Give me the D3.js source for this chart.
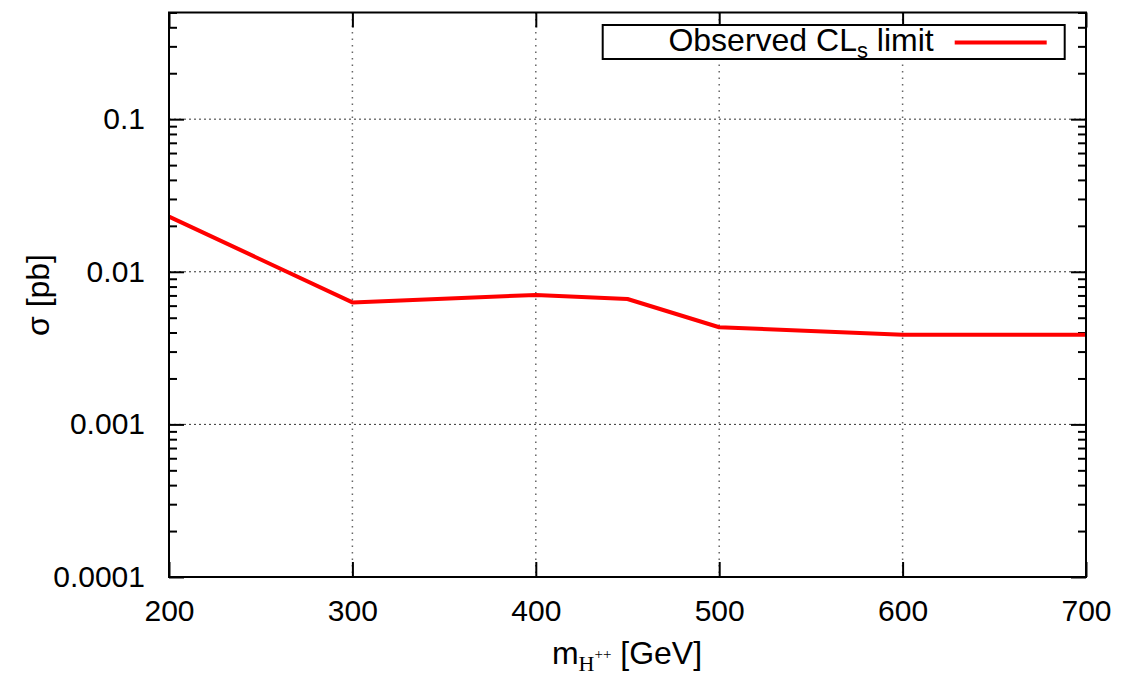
<!DOCTYPE html>
<head>
  <meta charset="utf-8">
  <title>Observed CLs limit</title>
  <style>
  body { margin: 0; background: #fff; }
  text { font-family: "Liberation Sans", Arial, sans-serif; fill: #000; }
  .axis text { font-size: 30px; }
  .axis line { stroke: #000; stroke-width: 2px; }
  .axis path { display: none; }
  .grid-x line { stroke: #666; stroke-width: 1.5px; stroke-dasharray: 1.5, 5; }
  .grid-y line { stroke: #333; stroke-width: 1px; stroke-dasharray: 2, 3; }
  .limit { fill: none; stroke: #ff0000; stroke-width: 4px; stroke-linejoin: round; }
  </style>
</head>

<svg id="chart"></svg>

<script src="https://cdn.jsdelivr.net/npm/d3@7"></script>

<script>
"use strict";

// dados
var masses = [200, 300, 400, 450, 500, 600, 700];
var sigmaObs = [0.0230, 0.00630, 0.00705, 0.00663, 0.00433, 0.00386, 0.00386];
var xTicks = [200, 300, 400, 500, 600, 700];
var yTicks = [0.0001, 0.001, 0.01, 0.1];
var yTickLabels = ["0.0001", "0.001", "0.01", "0.1"];

var totalWidth = 1146,
    totalHeight = 678;

var svg = d3.select("#chart")
    .attr("width", totalWidth)
    .attr("height", totalHeight);

var margin = {top: 12.5, right: 60, bottom: 101, left: 169},
    width = totalWidth - margin.left - margin.right,
    height = totalHeight - margin.top - margin.bottom;

var g = svg.append("g")
    .attr("transform", "translate(" + margin.left + "," + margin.top + ")");

var x = d3.scaleLinear()
    .domain([200, 700])
    .range([0, width]);

var y = d3.scaleLog()
    .domain([0.0001, 0.5])
    .range([height, 0]);

// ticks menores: 2..9 de cada década
var minorTicks = [];
[0.0001, 0.001, 0.01, 0.1].forEach(function(d) {
  for (var k = 2; k <= 9; k++) {
    var v = d * k;
    if (v <= 0.5 + 1e-9) minorTicks.push(v);
  }
});

// grade
g.append("g")
    .attr("class", "grid-x")
    .selectAll("line")
    .data(xTicks.slice(1, -1))
  .enter().append("line")
    .attr("x1", function(d) { return x(d); })
    .attr("x2", function(d) { return x(d); })
    .attr("y1", 0)
    .attr("y2", height);

g.append("g")
    .attr("class", "grid-y")
    .selectAll("line")
    .data(yTicks.slice(1))
  .enter().append("line")
    .attr("x1", 0)
    .attr("x2", width)
    .attr("y1", function(d) { return y(d); })
    .attr("y2", function(d) { return y(d); });

// eixos
g.append("g")
    .attr("class", "axis axis--x")
    .attr("transform", "translate(0," + height + ")")
    .call(d3.axisBottom(x).tickValues(xTicks).tickSize(-15).tickPadding(23)
      .tickFormat(d3.format("d")));

g.append("g")
    .attr("class", "axis")
    .call(d3.axisTop(x).tickValues(xTicks).tickSize(-15).tickFormat(""));

g.append("g")
    .attr("class", "axis axis--y")
    .call(d3.axisLeft(y).tickValues(yTicks).tickSize(-15).tickPadding(24)
      .tickFormat(function(d, i) { return yTickLabels[i]; }));

g.append("g")
    .attr("class", "axis")
    .call(d3.axisLeft(y).tickValues(minorTicks).tickSize(-8).tickFormat(""));

g.append("g")
    .attr("class", "axis")
    .attr("transform", "translate(" + width + ",0)")
    .call(d3.axisRight(y).tickValues(yTicks).tickSize(-15).tickFormat(""));

g.append("g")
    .attr("class", "axis")
    .attr("transform", "translate(" + width + ",0)")
    .call(d3.axisRight(y).tickValues(minorTicks).tickSize(-8).tickFormat(""));

// a curva
var data = masses.map(function(m, i) { return {m: m, s: sigmaObs[i]}; });

var line = d3.line()
    .x(function(d) { return x(d.m); })
    .y(function(d) { return y(d.s); });

g.append("path")
    .datum(data)
    .attr("class", "limit")
    .attr("d", line);

// moldura
g.append("rect")
    .attr("width", width)
    .attr("height", height)
    .attr("fill", "none")
    .attr("stroke", "#000")
    .attr("stroke-width", 2);

// legenda
var leg = g.append("g")
    .attr("transform", "translate(" + (602.7 - margin.left) + "," + (25 - margin.top) + ")");

leg.append("rect")
    .attr("width", 462)
    .attr("height", 34)
    .attr("fill", "#fff")
    .attr("stroke", "#000")
    .attr("stroke-width", 2);

var legText = leg.append("text")
    .attr("x", 331)
    .attr("y", 26)
    .attr("text-anchor", "end")
    .style("font-size", "32px");
legText.append("tspan").text("Observed CL");
legText.append("tspan").attr("dy", 7).style("font-size", "22px").text("s");
legText.append("tspan").attr("dy", -7).text(" limit");

leg.append("line")
    .attr("x1", 352)
    .attr("x2", 444)
    .attr("y1", 17.5)
    .attr("y2", 17.5)
    .attr("stroke", "#ff0000")
    .attr("stroke-width", 4);

// rótulos dos eixos
var xl = svg.append("text")
    .attr("x", 627)
    .attr("y", 664)
    .attr("text-anchor", "middle")
    .style("font-size", "32px");
xl.append("tspan").text("m");
xl.append("tspan").attr("dy", 7)
    .style("font-family", "'Liberation Serif', 'Times New Roman', serif")
    .style("font-size", "22px").text("H");
xl.append("tspan").attr("dy", -12)
    .style("font-family", "'Liberation Serif', 'Times New Roman', serif")
    .style("font-size", "15px").text("++");
xl.append("tspan").attr("dy", 5).text(" [GeV]");

svg.append("text")
    .attr("transform", "translate(49," + 295 + ") rotate(-90)")
    .attr("text-anchor", "middle")
    .style("font-size", "32px")
    .text("σ [pb]");
</script>
